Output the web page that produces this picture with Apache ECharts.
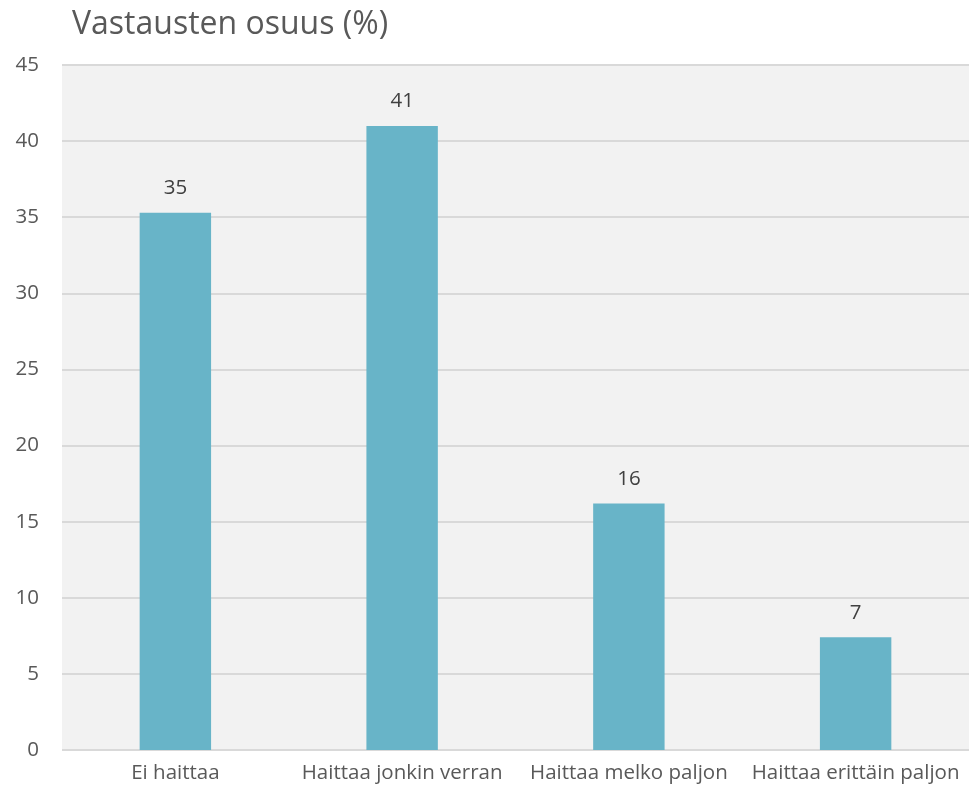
<!DOCTYPE html>
<html lang="fi">
<head>
	<meta charset="utf-8">
	<title>Vastausten osuus (%)</title>
	<script src="https://cdn.jsdelivr.net/npm/echarts@6/dist/echarts.min.js"></script>
	<style>
		html, body { margin: 0; padding: 0; background: #fff; }
		#panel { width: 969px; height: 794px; }
	</style>
</head>
<body>
	<div id="panel"></div>
	<script type="text/javascript">
		// 分类与数值
		const categories = ["Ei haittaa", "Haittaa jonkin verran", "Haittaa melko paljon", "Haittaa erittäin paljon"];
		const shares = [35.3, 41.0, 16.2, 7.4];
		const yTicks = [0, 5, 10, 15, 20, 25, 30, 35, 40, 45];

		const font = "'Open Sans', 'Liberation Sans', sans-serif";
		const panel = echarts.init(document.getElementById("panel"));
		let option = {
			animation: false,
			title: {
				text: "Vastausten osuus (%)",
				left: 67,
				top: 4,
				textStyle: { color: "#595959", fontSize: 32, fontWeight: "normal", fontFamily: font }
			},
			grid: {
				left: 62, right: 0, top: 65, bottom: 44,
				show: true, backgroundColor: "#f2f2f2", borderWidth: 0
			},
			xAxis: {
				type: "category",
				data: categories,
				axisLine: { show: false },
				axisTick: { show: false },
				axisLabel: { color: "#595959", fontSize: 20.5, fontFamily: font, margin: 13, interval: 0 }
			},
			yAxis: {
				type: "value",
				min: yTicks[0],
				max: yTicks[yTicks.length - 1],
				interval: 5,
				axisLabel: { color: "#595959", fontSize: 20.5, fontFamily: font, margin: 23 },
				splitLine: { lineStyle: { color: "#d9d9d9", width: 2 } }
			},
			series: [{
				type: "bar",
				data: shares,
				barWidth: "31.5%",
				itemStyle: { color: "#68b4c8" },
				label: {
					show: true,
					position: "top",
					distance: 14,
					color: "#404040",
					fontSize: 20.5,
					fontFamily: font,
					formatter: (p) => Math.round(p.value)
				}
			}]
		};
		panel.setOption(option);
	</script>
</body>
</html>
